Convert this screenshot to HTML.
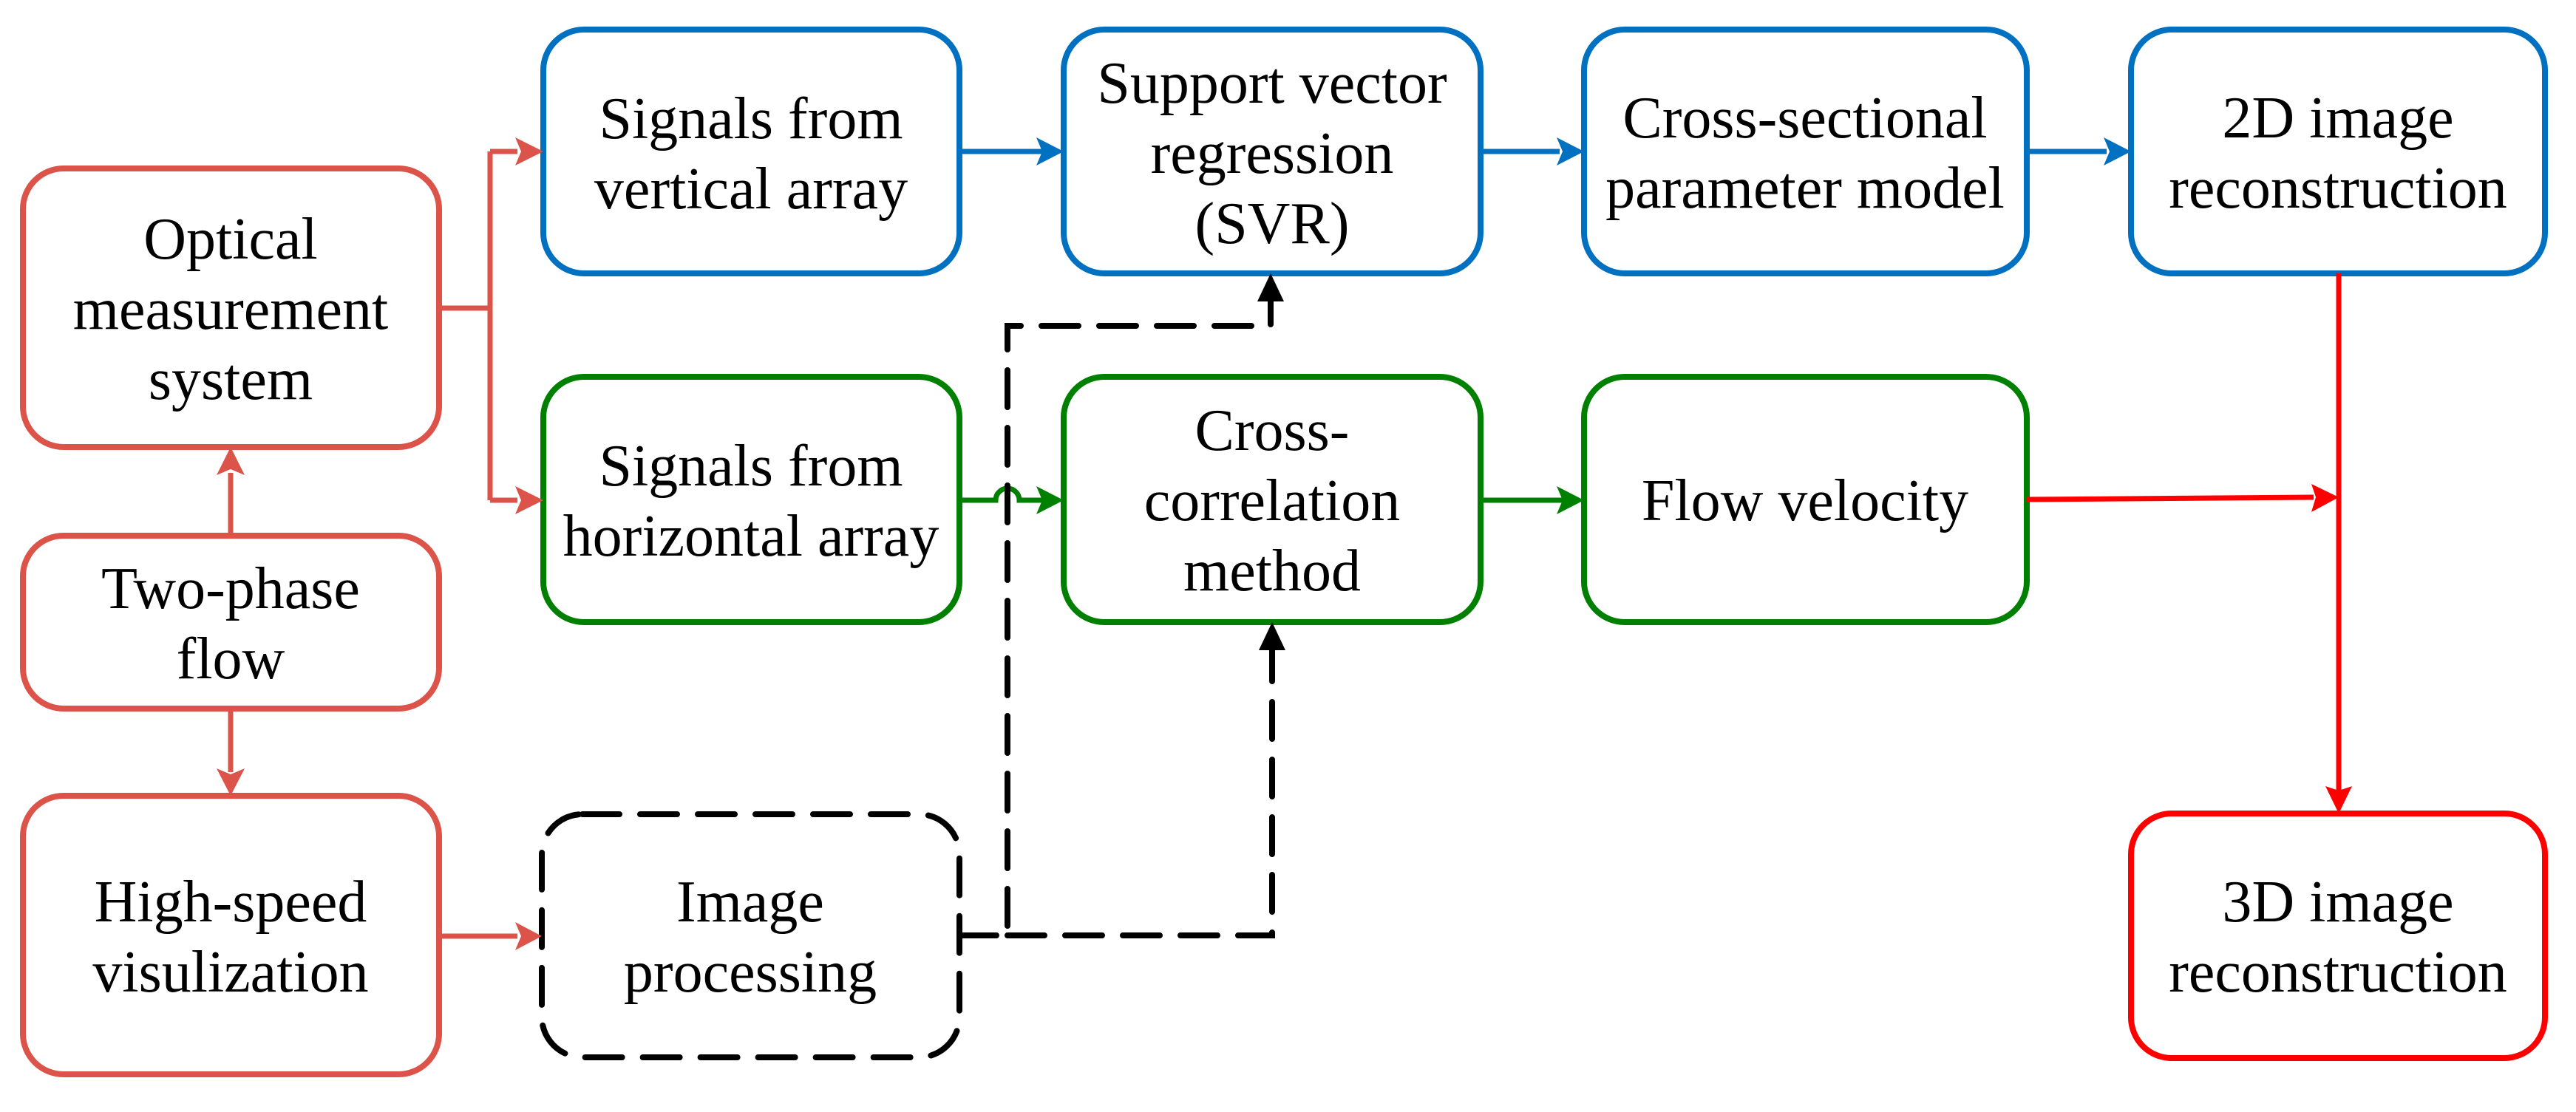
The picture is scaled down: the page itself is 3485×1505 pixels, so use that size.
<!DOCTYPE html>
<html><head><meta charset="utf-8"><style>
html,body{margin:0;padding:0;background:#fff;}
body{position:relative;width:3485px;height:1505px;overflow:hidden;}
svg{display:block;position:absolute;left:0;top:0;}
.t{position:absolute;font-family:"Liberation Serif","DejaVu Serif",serif;font-size:80px;line-height:95px;color:#000;text-align:center;white-space:nowrap;transform:translateX(-50%);}
</style></head><body>
<svg width="3485" height="1505" viewBox="0 0 3485 1505" xmlns="http://www.w3.org/2000/svg">
<g fill="none" stroke-width="8">
  <rect x="31" y="228" width="563" height="377" rx="55" stroke="#dc5349"/>
  <rect x="31" y="725" width="563" height="234" rx="55" stroke="#dc5349"/>
  <rect x="31" y="1077" width="563" height="377" rx="55" stroke="#dc5349"/>
  <rect x="735" y="40" width="563" height="330" rx="55" stroke="#0070c0"/>
  <rect x="735" y="510" width="563" height="332" rx="55" stroke="#008000"/>
  <rect x="733" y="1102" width="565" height="329" rx="55" stroke="#000" stroke-dasharray="50 28" stroke-linecap="round"/>
  <rect x="1439" y="40" width="564" height="330" rx="55" stroke="#0070c0"/>
  <rect x="1439" y="510" width="564" height="332" rx="55" stroke="#008000"/>
  <rect x="2143" y="40" width="599" height="330" rx="55" stroke="#0070c0"/>
  <rect x="2143" y="510" width="599" height="332" rx="55" stroke="#008000"/>
  <rect x="2883" y="40" width="560" height="330" rx="55" stroke="#0070c0"/>
  <rect x="2883" y="1101" width="560" height="331" rx="55" stroke="#ff0000"/>
</g>
<g fill="none" stroke="#dc5349" stroke-width="7">
  <path d="M594 417 H663 M663 205 V677 M663 205 H700 M663 677 H700"/>
  <path d="M312 725 V640"/>
  <path d="M312 959 V1045"/>
  <path d="M594 1267 H700"/>
</g>
<g fill="#dc5349">
  <polygon points="735,205 697,186 705,205 697,224"/>
  <polygon points="735,677 697,658 705,677 697,696"/>
  <polygon points="312,605 293,643 312,635 331,643"/>
  <polygon points="312,1077 293,1040 312,1048 331,1040"/>
  <polygon points="733,1267 697,1248 705,1267 697,1286"/>
</g>
<g fill="none" stroke="#0070c0" stroke-width="7">
  <path d="M1298 205 H1410 M2003 205 H2110 M2742 205 H2850"/>
</g>
<g fill="#0070c0">
  <polygon points="1439,205 1402,186 1410,205 1402,224"/>
  <polygon points="2143,205 2106,186 2114,205 2106,224"/>
  <polygon points="2883,205 2846,186 2854,205 2846,224"/>
</g>
<g fill="none" stroke="#008000" stroke-width="7">
  <path d="M1298 677 H1347 A16 16 0 0 1 1379 677 H1410"/>
  <path d="M2003 677 H2115"/>
</g>
<g fill="#008000">
  <polygon points="1439,677 1402,658 1410,677 1402,696"/>
  <polygon points="2143,677 2106,658 2114,677 2106,696"/>
</g>
<g fill="none" stroke="#ff0000" stroke-width="7">
  <path d="M2742 676 L3130 673"/>
  <path d="M3164 370 V1070"/>
</g>
<g fill="#ff0000">
  <polygon points="3164,673 3127,655 3133,673 3127,693"/>
  <polygon points="3164,1101 3146,1064 3164,1070 3182,1064"/>
</g>
<g fill="none" stroke="#000" stroke-width="8" stroke-dasharray="50 28" stroke-linecap="round">
  <path d="M1298 1266 H1363 V441 H1719 V405"/>
  <path d="M1363 1266 H1721 V875"/>
</g>
<g fill="#000">
  <polygon points="1719,370 1701,408 1737,408"/>
  <polygon points="1721,842 1703,880 1739,880"/>
</g>
</svg>
<!-- text: line-height 95, baseline ≈ top + 71 -->
<div class="t" style="left:312px;top:277px">Optical<br>measurement<br>system</div>
<div class="t" style="left:312px;top:750px">Two-phase<br>flow</div>
<div class="t" style="left:312px;top:1174px">High-speed<br>visulization</div>
<div class="t" style="left:1016px;top:114px">Signals from<br>vertical array</div>
<div class="t" style="left:1016px;top:584px">Signals from<br>horizontal array</div>
<div class="t" style="left:1015px;top:1174px">Image<br>processing</div>
<div class="t" style="left:1721px;top:66px">Support vector<br>regression<br>(SVR)</div>
<div class="t" style="left:1721px;top:536px">Cross-<br>correlation<br>method</div>
<div class="t" style="left:2442px;top:113px">Cross-sectional<br>parameter model</div>
<div class="t" style="left:2442px;top:631px">Flow velocity</div>
<div class="t" style="left:3163px;top:113px">2D image<br>reconstruction</div>
<div class="t" style="left:3163px;top:1174px">3D image<br>reconstruction</div>
</body></html>
